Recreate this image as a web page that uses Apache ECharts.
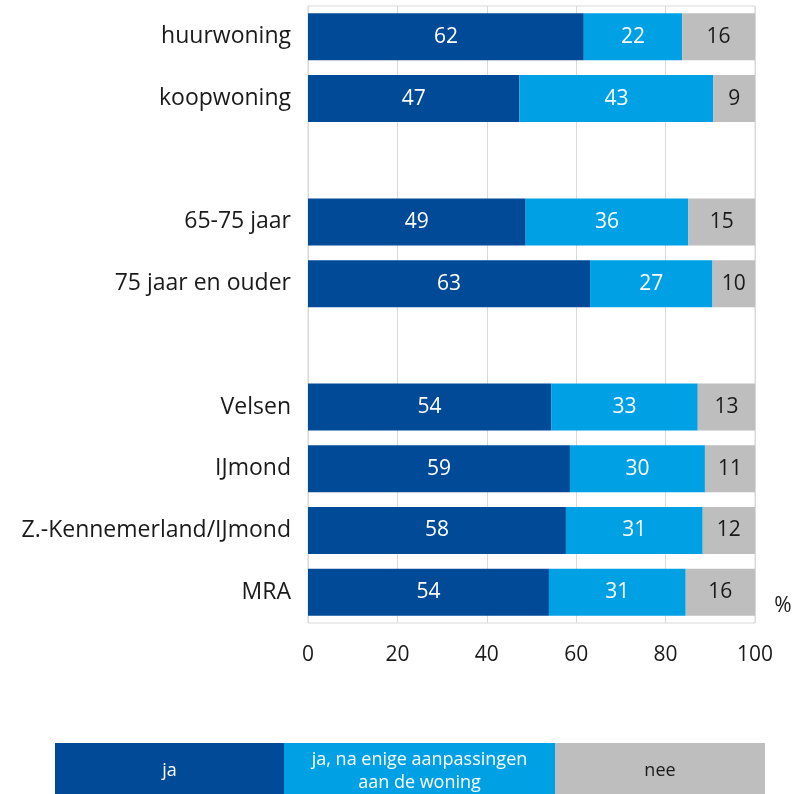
<!DOCTYPE html>
<html lang="nl">
<head>
  <meta charset="UTF-8" />
  <title>Woning geschikt</title>
  <script src="https://cdn.jsdelivr.net/npm/echarts@6/dist/echarts.min.js"></script>
  <style>
    html, body { margin: 0; padding: 0; background: #fff; }
    #chart { width: 799px; height: 794px; }
  </style>
</head>
<body>
  <div id="chart"></div>
  <script>
    // lege categorieen zorgen voor de witruimte tussen de groepen
    const categories = ['huurwoning', 'koopwoning', '', '65-75 jaar', '75 jaar en ouder', '',
      'Velsen', 'IJmond', 'Z.-Kennemerland/IJmond', 'MRA'];
    const ja = [61.7, 47.3, null, 48.7, 63.1, null, 54.4, 58.6, 57.7, 53.9];
    const jaAanpassing = [22.0, 43.4, null, 36.4, 27.4, null, 32.8, 30.2, 30.6, 30.6];
    const nee = [16.3, 9.3, null, 14.9, 9.5, null, 12.8, 11.2, 11.7, 15.5];
    const seriesNames = ['ja', 'ja, na enige aanpassingen\naan de woning', 'nee'];
    const xTicks = [0, 20, 40, 60, 80, 100];

    const colors = ['#004a98', '#00a1e4', '#bebebe'];
    const labelColors = ['#ffffff', '#ffffff', '#1a1a1a'];
    const font = "'Open Sans', 'Noto Sans', sans-serif";

    const chart = echarts.init(document.getElementById('chart'));

    const series = [ja, jaAanpassing, nee].map((data, i) => ({
      name: seriesNames[i],
      type: 'bar',
      stack: 'totaal',
      data: data,
      barWidth: 47,
      itemStyle: { color: colors[i] },
      label: {
        show: true,
        position: 'inside',
        color: labelColors[i],
        fontFamily: font,
        fontSize: 21,
        formatter: p => Math.round(p.value)
      },
      emphasis: { disabled: true }
    }));

    // legenda als gekleurde vakken onderaan
    const legendBoxes = [
      { x: 55, w: 229 },
      { x: 284, w: 271 },
      { x: 555, w: 210 }
    ];
    const graphic = [];
    legendBoxes.forEach((b, i) => {
      graphic.push({
        type: 'rect',
        shape: { x: b.x, y: 743, width: b.w, height: 51 },
        style: { fill: colors[i] }
      });
      graphic.push({
        type: 'text',
        x: b.x + b.w / 2,
        y: 771,
        style: {
          text: seriesNames[i],
          fill: labelColors[i],
          font: "18px 'Open Sans', sans-serif",
          align: 'center',
          verticalAlign: 'middle',
          lineHeight: 23
        }
      });
    });
    graphic.push({
      type: 'text',
      x: 783,
      y: 606,
      style: {
        text: '%',
        fill: '#1a1a1a',
        font: "21px 'Open Sans', sans-serif",
        align: 'center',
        verticalAlign: 'middle'
      }
    });

    chart.setOption({
      animation: false,
      grid: {
        left: 308, right: 44, top: 6, bottom: 171,
        show: true,
        borderColor: '#d9d9d9',
        borderWidth: 1
      },
      xAxis: {
        type: 'value',
        min: 0,
        max: 100,
        interval: 20,
        axisLine: { show: false },
        axisTick: { show: false },
        axisLabel: {
          margin: 22,
          color: '#1a1a1a',
          fontFamily: font,
          fontSize: 21,
          formatter: v => xTicks.includes(v) ? String(v) : ''
        },
        splitLine: { lineStyle: { color: '#d9d9d9', width: 1 } }
      },
      yAxis: {
        type: 'category',
        data: categories,
        inverse: true,
        axisLine: { show: false },
        axisTick: { show: false },
        axisLabel: {
          margin: 17,
          color: '#1a1a1a',
          fontFamily: font,
          fontSize: 23
        }
      },
      series: series,
      graphic: graphic
    });
  </script>
</body>
</html>
